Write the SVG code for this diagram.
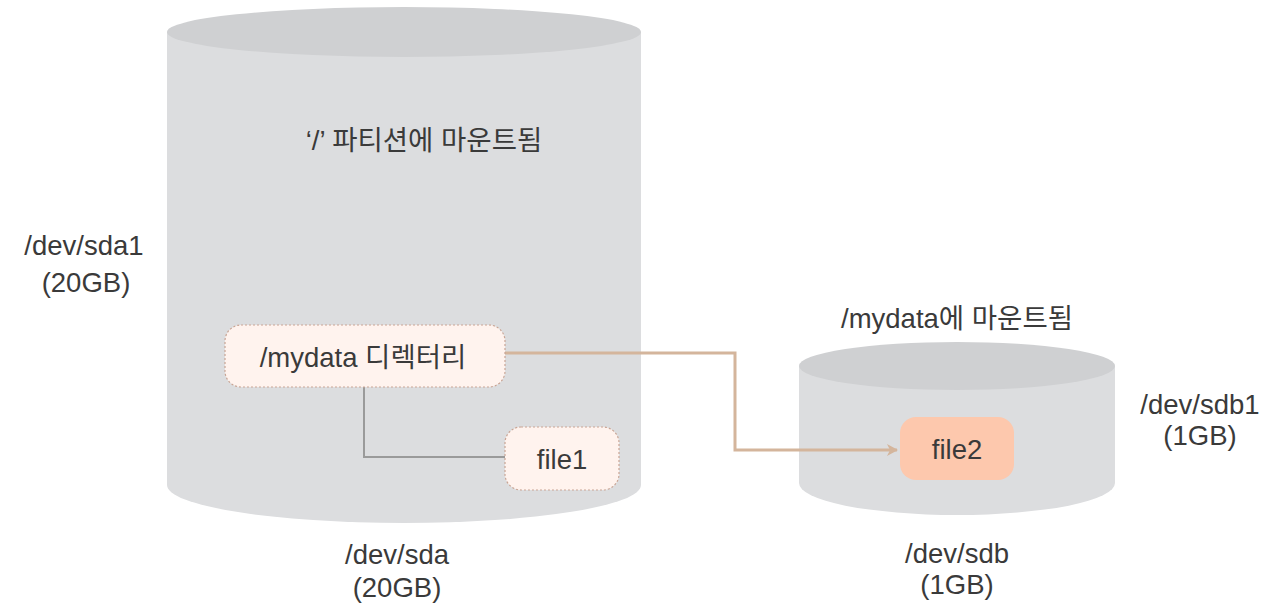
<svg xmlns="http://www.w3.org/2000/svg" width="1278" height="606" viewBox="0 0 1278 606">
<style>
.t{font-family:"Liberation Sans","Noto Sans CJK KR",sans-serif;font-size:27.5px;fill:#3a3a3a;text-anchor:middle}
.body{fill:#dcdddf}
.top{fill:#cfd0d2}
.box{fill:#fff3ee;stroke:#c9a595;stroke-width:1.2;stroke-dasharray:2 2}
</style>
<defs>
<marker id="ah" markerWidth="12" markerHeight="12" refX="10" refY="6" orient="auto" markerUnits="userSpaceOnUse">
<path d="M0,0 L11,6 L0,12 L3,6 Z" fill="#d4b59c"/>
</marker>
</defs>
<rect width="1278" height="606" fill="#ffffff"/>
<g id="disk-sda">
<path class="body" d="M167,32 L641,32 L641,485 A237,38 0 0 1 167,485 Z"/>
<ellipse class="top" cx="404" cy="32" rx="237" ry="25"/>
<text class="t" x="424" y="150">‘/’ 파티션에 마운트됨</text>
</g>
<g id="disk-sdb">
<path class="body" d="M799,366 L1115,366 L1115,483 A158,32 0 0 1 799,483 Z"/>
<ellipse class="top" cx="957" cy="366" rx="158" ry="24"/>
</g>
<g id="connectors">
<path d="M364,387 L364,457 L505,457" fill="none" stroke="#9a9a9a" stroke-width="2"/>
<path d="M505,353 L735,353 L735,450 L897,450" fill="none" stroke="#d4b59c" stroke-width="3" marker-end="url(#ah)"/>
</g>
<g id="node-mydata">
<rect class="box" x="225" y="325" width="280" height="62" rx="16"/>
<text class="t" x="363" y="367">/mydata 디렉터리</text>
</g>
<g id="node-file1">
<rect class="box" x="505" y="427" width="114" height="63" rx="16"/>
<text class="t" x="562" y="469">file1</text>
</g>
<g id="node-file2">
<rect x="900" y="417" width="114" height="63" rx="16" fill="#fdc8ad"/>
<text class="t" x="957" y="459">file2</text>
</g>
<g id="label-sda1">
<text class="t" x="84" y="255">/dev/sda1</text>
<text class="t" x="86" y="292">(20GB)</text>
</g>
<g id="label-sda">
<text class="t" x="397" y="564">/dev/sda</text>
<text class="t" x="397" y="597">(20GB)</text>
</g>
<g id="label-mydata-mount">
<text class="t" x="957" y="328">/mydata에 마운트됨</text>
</g>
<g id="label-sdb1">
<text class="t" x="1200" y="414">/dev/sdb1</text>
<text class="t" x="1200" y="445">(1GB)</text>
</g>
<g id="label-sdb">
<text class="t" x="957" y="563">/dev/sdb</text>
<text class="t" x="957" y="594">(1GB)</text>
</g>
</svg>
